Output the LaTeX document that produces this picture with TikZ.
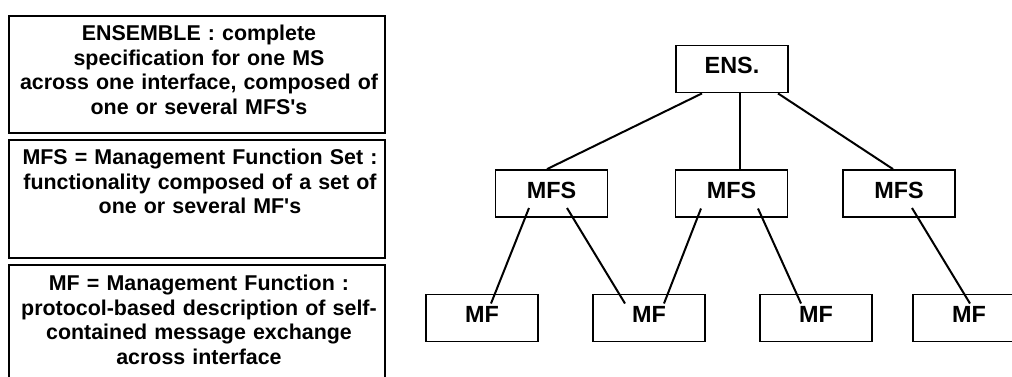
\documentclass[tikz,border=0pt]{standalone}
\usepackage{fontspec}
\setmainfont{Liberation Sans}
\usetikzlibrary{calc}
\begin{document}
\begin{tikzpicture}[x=0.5pt,y=-0.5pt,
  defbox/.style={draw,line width=0.9pt,anchor=north west,minimum width=188pt,inner sep=0pt},
  deftext/.style={anchor=north,inner sep=0pt,text width=184pt,align=center,
    font=\fontsize{10.7}{12.25}\selectfont\bfseries},
  treebox/.style={draw,line width=0.9pt,minimum width=56pt,minimum height=23.5pt,
    inner sep=0pt,text depth=3.5pt,font=\fontsize{11.7}{13}\selectfont\bfseries},
  link/.style={line width=1pt}]
\useasboundingbox (0,0) rectangle (1012,376);
\node[defbox,minimum height=58.5pt] (ensdef) at (8,15) {};
\node[defbox,minimum height=59pt] (mfsdef) at (8,139) {};
\node[defbox,minimum height=62pt] (mfdef) at (8,264) {};
\node[deftext] (ensdeftxt) at (199,25) {ENSEMBLE : complete\\ specification for one MS\\ across one interface, composed of\\ one or several MFS\textquotesingle s};
\node[deftext] (mfsdeftxt) at (200,149) {MFS = Management Function Set :\\ functionality composed of a set of\\ one or several MF\textquotesingle s};
\node[deftext] (mfdeftxt) at (199,275) {MF = Management Function :\\ protocol-based description of self-\\ contained message exchange\\ across interface};
\node[treebox] (ens) at (732,69) {ENS.};
\node[treebox] (mfs1) at (551.5,193.5) {MFS};
\node[treebox] (mfs2) at (731.5,193.5) {MFS};
\node[treebox] (mfs3) at (899,193.5) {MFS};
\node[treebox] (mf1) at (482,318) {MF};
\node[treebox] (mf2) at (649,318) {MF};
\node[treebox] (mf3) at (816,318) {MF};
\node[treebox] (mf4) at (969,318) {MF};
\draw[link] ($(ens.south)+(-30,0)$) -- ($(mfs1.north)+(-4.5,0)$);
\draw[link] ($(ens.south)+(8,0)$) -- ($(mfs2.north)+(8.5,0)$);
\draw[link] ($(ens.south)+(46,0)$) -- ($(mfs3.north)+(-6,0)$);
\draw[link] ($(mfs1.center)+(-22.5,14.5)$) -- ($(mf1.center)+(9,-14.5)$);
\draw[link] ($(mfs1.center)+(15.5,14.5)$) -- ($(mf2.center)+(-24,-14.5)$);
\draw[link] ($(mfs2.center)+(-30.5,15)$) -- ($(mf2.center)+(15,-14.5)$);
\draw[link] ($(mfs2.center)+(26.5,15)$) -- ($(mf3.center)+(-15,-14.5)$);
\draw[link] ($(mfs3.center)+(13,14.5)$) -- ($(mf4.center)+(1,-14.5)$);
\end{tikzpicture}
\end{document}
